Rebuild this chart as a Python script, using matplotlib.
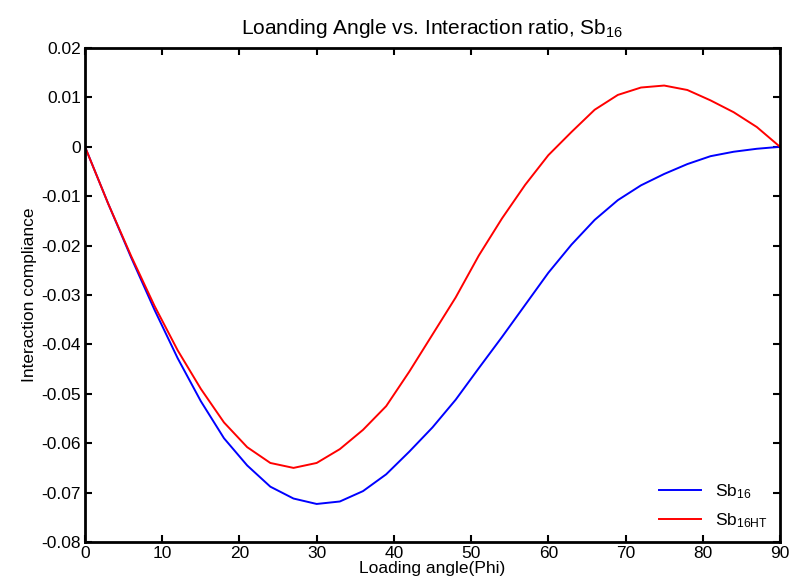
import matplotlib
matplotlib.use("Agg")
import matplotlib.pyplot as plt

plt.rcParams['font.family'] = ['Liberation Sans', 'DejaVu Sans']
plt.rcParams['mathtext.fontset'] = 'custom'
plt.rcParams['mathtext.rm'] = 'Liberation Sans'
plt.rcParams['mathtext.it'] = 'Liberation Sans'
plt.rcParams['mathtext.bf'] = 'Liberation Sans'

phi = [0, 3, 6, 9, 12, 15, 18, 21, 24, 27, 30, 33, 36, 39, 42, 45, 48, 51, 54, 57,
       60, 63, 66, 69, 72, 75, 78, 81, 84, 87, 90]
sb16 = [0, -0.0115, -0.0225, -0.0330, -0.0428, -0.0515, -0.0590, -0.0645, -0.0688,
        -0.0712, -0.0723, -0.0718, -0.0697, -0.0663, -0.0617, -0.0568, -0.0512,
        -0.0448, -0.0385, -0.0320, -0.0255, -0.0198, -0.0148, -0.0108, -0.0078,
        -0.0055, -0.0035, -0.0019, -0.0010, -0.0004, 0]
sb16ht = [0, -0.0115, -0.0222, -0.0322, -0.0412, -0.0490, -0.0558, -0.0608, -0.0640,
          -0.0650, -0.0640, -0.0612, -0.0573, -0.0525, -0.0455, -0.0380, -0.0305,
          -0.0220, -0.0145, -0.0077, -0.0017, 0.0030, 0.0075, 0.0105, 0.0120,
          0.0124, 0.0115, 0.0094, 0.0070, 0.0040, 0]
xticks = [0, 10, 20, 30, 40, 50, 60, 70, 80, 90]
yticks = [-0.08, -0.07, -0.06, -0.05, -0.04, -0.03, -0.02, -0.01, 0, 0.01, 0.02]
ytick_labels = ['-0.08', '-0.07', '-0.06', '-0.05', '-0.04', '-0.03', '-0.02', '-0.01', '0', '0.01', '0.02']

fig = plt.figure(figsize=(7.93, 5.88), dpi=100)
ax = fig.add_axes([85/793, 1-542/588, (780-85)/793, (542-48)/588])
ax.plot(phi, sb16, color='#0000ff', lw=1.4, label='Sb$_{16}$')
ax.plot(phi, sb16ht, color='#ff0000', lw=1.4, label='Sb$_{16HT}$')
ax.set_xlim(0, 90)
ax.set_ylim(-0.08, 0.02)
ax.set_xticks(xticks)
ax.set_yticks(yticks)
ax.set_yticklabels(ytick_labels)
ax.tick_params(direction='in', top=True, right=True, length=5, width=1.5,
               labelsize=12.5, pad=3)
for s in ax.spines.values():
    s.set_linewidth(2)
ax.set_title('Loanding Angle vs. Interaction ratio, Sb$_{16}$', fontsize=15, pad=10)
ax.set_xlabel('Loading angle(Phi)', fontsize=12.5, labelpad=0)
ax.set_ylabel('Interaction compliance', fontsize=12.5, labelpad=3)
leg = ax.legend(loc='lower right', frameon=False, fontsize=12.5, handlelength=2.4,
                borderaxespad=0.3, labelspacing=0.6)
fig.savefig('out.png', dpi=100)
